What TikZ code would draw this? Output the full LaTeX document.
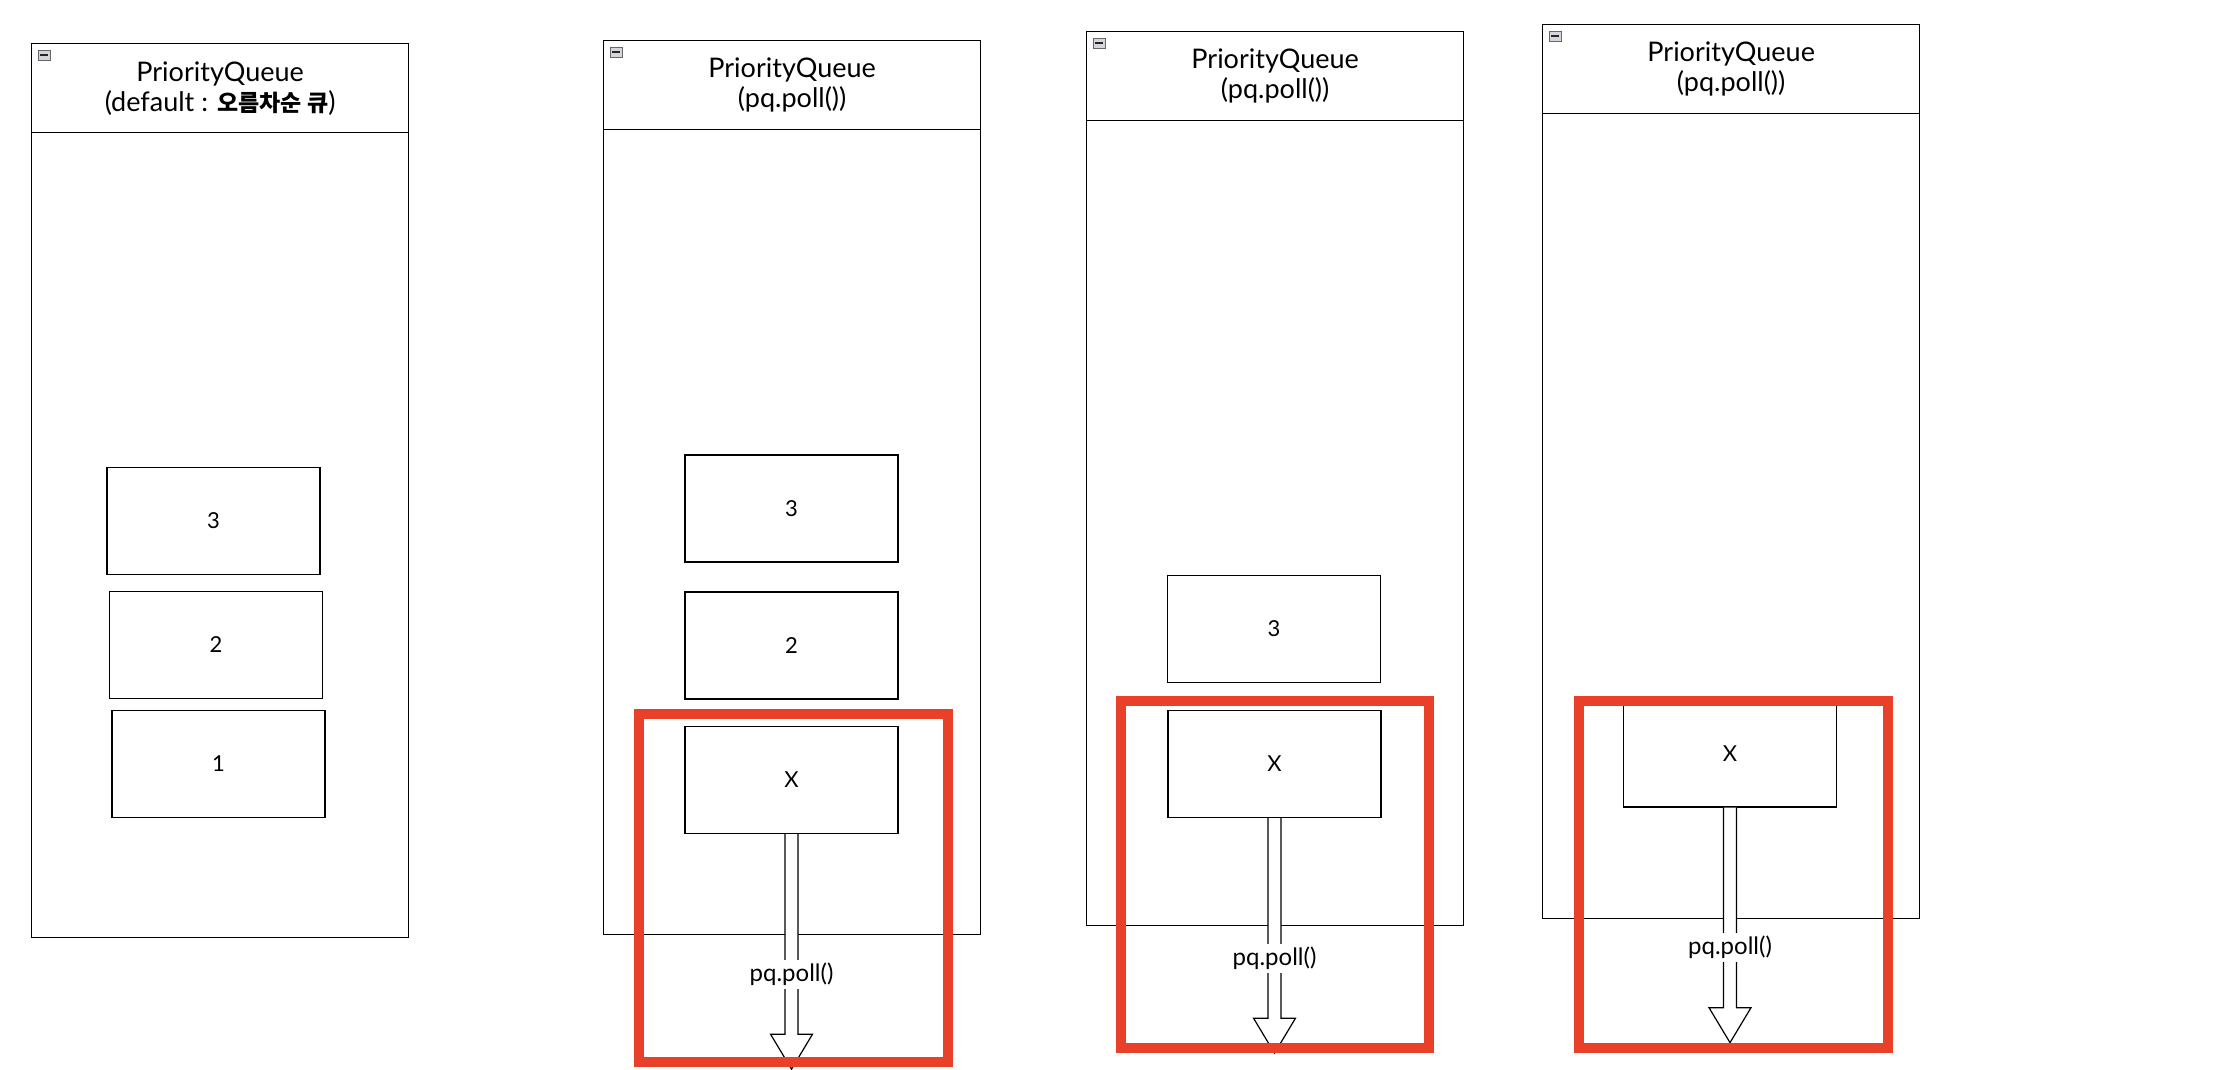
\documentclass[tikz,border=0pt]{standalone}
\usepackage{fontspec}
\setmainfont{Lato}
\newfontfamily\krfont{Noto Sans CJK KR}
\usetikzlibrary{positioning, calc}
\definecolor{pollred}{RGB}{233, 64, 41}
\definecolor{iconfill}{RGB}{212, 214, 220}

\begin{document}
\begin{tikzpicture}[x=1pt, y=-1pt,
    column/.style={draw, line width=1.3pt, anchor=north west, inner sep=0pt,
      minimum width=377pt, minimum height=894pt},
    header/.style={draw, line width=1.3pt, anchor=north, inner sep=0pt, align=center,
      minimum width=377pt, minimum height=89pt, font=\fontsize{27}{30}\selectfont},
    item/.style={draw, line width=1.3pt, fill=white, minimum width=213pt, minimum height=107pt,
      font=\fontsize{22}{24}\selectfont},
    icon/.style={draw=gray!80!black, fill=iconfill, line width=0.8pt, inner sep=0pt,
      minimum width=12pt, minimum height=10pt},
    polllink/.style={draw, line width=1.2pt, fill=white, line join=miter},
    polllabel/.style={fill=white, inner sep=3pt, font=\fontsize{24}{28}\selectfont},
    pollmark/.style={draw=pollred, line width=10pt}]
  \useasboundingbox (0,0) rectangle (2232,1070);

  % queue columns
  \node[column] (c1) at (31,43) {};
  \node[column] (c2) at (603,40) {};
  \node[column] (c3) at (1086,31) {};
  \node[column] (c4) at (1542,24) {};

  \node[header] (h1) at (c1.north) {PriorityQueue\\(default : {\krfont\bfseries\fontsize{23}{30}\selectfont 오름차순 큐})};
  \foreach \i in {2,3,4}
    \node[header] (h\i) at (c\i.north) {PriorityQueue\\(pq.poll())};

  \foreach \i in {1,2,3,4}
    \node[icon] (m\i) at ($(c\i.north west)+(13,12)$) {};
  \foreach \i in {1,2,3,4}
    \draw[line width=1.6pt, gray!30!black] ($(m\i.west)+(2.5,0)$) -- ($(m\i.east)+(-2.5,0)$);

  % elements
  \node[item] (a3) at (213.5,521) {3};
  \node[item] (a2) at (216,645) {2};
  \node[item] (a1) at (218.5,764) {1};

  \node[item] (b3) at (791.5,508.5) {3};
  \node[item] (b2) at (791.5,645.5) {2};
  \node[item] (x2) at (791.5,780) {X};

  \node[item] (d3) at (1274,629) {3};
  \node[item] (x3) at (1274.5,764) {X};

  \node[item] (x4) at (1730,753.5) {X};

  % poll arrows
  \foreach \i in {2,3,4} {
    \coordinate (t\i) at ($(x\i.south)+(0,235)$);
    \draw[polllink] ($(x\i.south)+(-6.5,0)$) -- ($(t\i)+(-6.5,-35)$) -- ($(t\i)+(-21,-35)$)
      -- (t\i) -- ($(t\i)+(21,-35)$) -- ($(t\i)+(6.5,-35)$) -- ($(x\i.south)+(6.5,0)$);
    \node[polllabel] (l\i) at ($(t\i)+(0,-95)$) {pq.poll()};
  }

  \draw[pollmark] (639,714) rectangle (948,1062);
  \draw[pollmark] (1121,701) rectangle (1429,1048);
  \draw[pollmark] (1579,701) rectangle (1888,1048);
\end{tikzpicture}
\end{document}
